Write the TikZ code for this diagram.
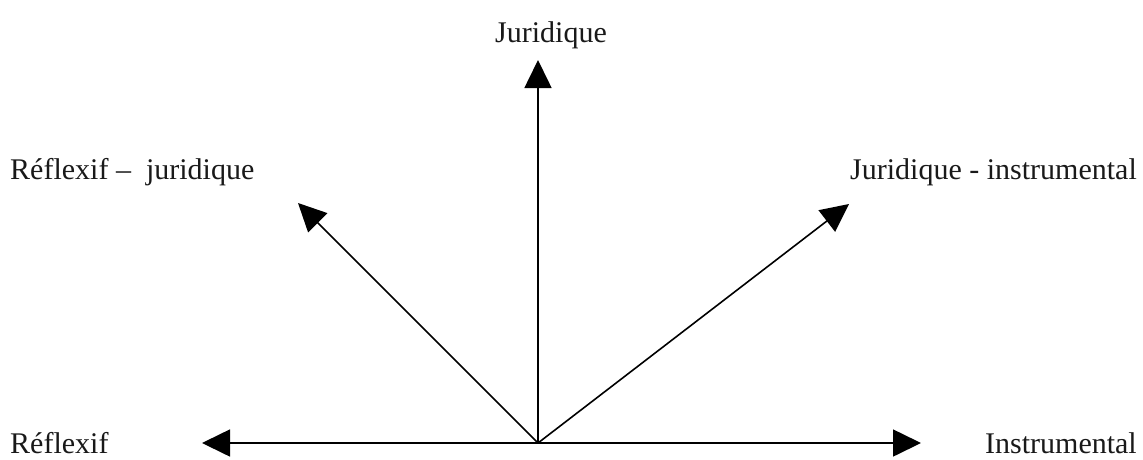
\documentclass[tikz,border=0pt]{standalone}
\usepackage{fontspec}
\setmainfont{Liberation Serif}
\usetikzlibrary{arrows.meta,positioning}

\begin{document}
\begin{tikzpicture}[x=1pt,y=-1pt,
    axis/.style={-{Triangle[length=28pt,width=27pt]},line width=1.6pt,black},
    lbl/.style={font=\fontsize{30}{36}\selectfont,inner sep=0pt,text=black!90}]
  \useasboundingbox (0,0) rectangle (1143,459);

  % Centre and arrow tips
  \coordinate (o) at (538,443);
  \coordinate (jur) at (538,60);
  \coordinate (refl) at (202,443);
  \coordinate (instr) at (921,443);
  \coordinate (refljur) at (298,203);
  \coordinate (jurinstr) at (849,204);

  % Arrows
  \draw[axis] (o) -- (jur);
  \draw[axis] (o) -- (refl);
  \draw[axis] (o) -- (instr);
  \draw[axis] (o) -- (refljur);
  \draw[axis] (o) -- (jurinstr);

  % Labels
  \node[lbl,anchor=base] (ljur) at (551,42) {Juridique};
  \node[lbl,anchor=base west] (lrefljur) at (10,179) {Réflexif –\ \ juridique};
  \node[lbl,anchor=base east] (ljurinstr) at (1137,179) {Juridique - instrumental};
  \node[lbl,anchor=base west] (lrefl) at (10,453) {Réflexif};
  \node[lbl,anchor=base east] (linstr) at (1137,453) {Instrumental};
\end{tikzpicture}
\end{document}
